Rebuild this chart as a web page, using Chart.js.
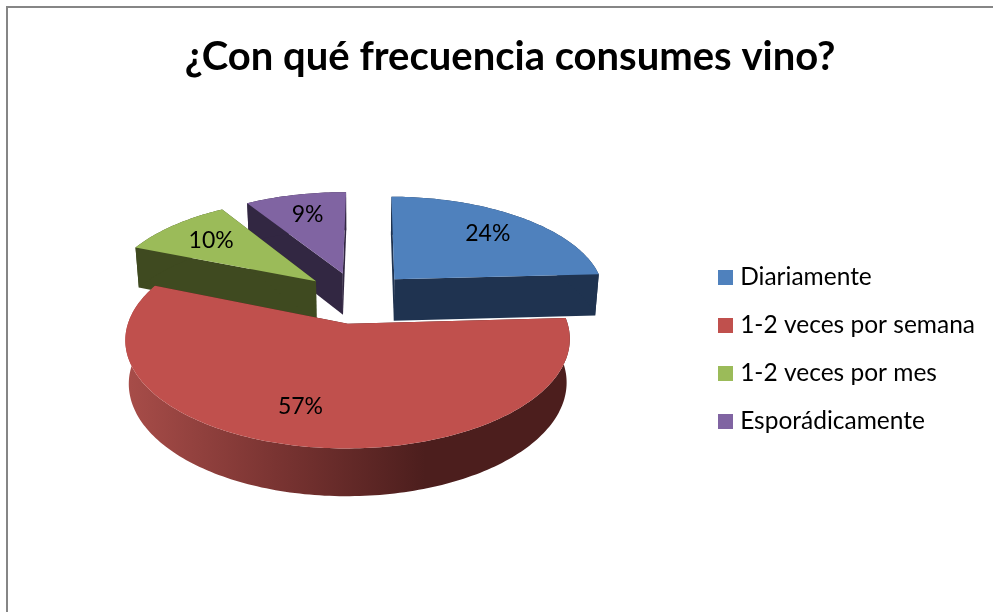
<!DOCTYPE html>
<html>
<head>
<meta charset="utf-8">
<title>Consumo de vino</title>
<script src="https://cdn.jsdelivr.net/npm/chart.js@4"></script>
<style>
  html, body { margin: 0; padding: 0; background: #fff; overflow: hidden; }
  #frame { position: absolute; left: 6px; top: 6px; width: 987px; height: 606px; border-left: 2px solid #868686; border-top: 2px solid #868686; box-sizing: border-box; }
  #chartPlace { position: absolute; left: 0; top: 0; }
</style>
</head>
<body>
<div id="frame"></div>
<canvas id="chartPlace" width="993" height="612"></canvas>
<script>
const chartTitle = "¿Con qué frecuencia consumes vino?";
const categories = ["Diariamente", "1-2 veces por semana", "1-2 veces por mes", "Esporádicamente"];
const values = [24, 57, 10, 9];
const topColors = ["#4f81bd", "#c0504d", "#9bbb59", "#8064a2"];
const wallColors = ["#1f3350", "#4c1e1d", "#3f4a20", "#322742"];
const labelTurn = [0, 0.1, 0, 0];

/* fake 3D view: the arcs stay in Chart.js, this only bends them on screen */
const view = {
  shiftX: -10,    // picture centre relative to the arc centre
  shiftY: -51.5,
  tilt: 0.467,
  depth: 0.14,    // perspective strength
  explode: 0.26,  // in radii
  height: 15,
  heightGrow: 27,
  baseShrink: 0.985
};

function project(arc, angle, r, mid, lift) {
  const R = arc.outerRadius;
  const u = r * Math.cos(angle) + view.explode * Math.cos(mid);
  const v = r * Math.sin(angle) + view.explode * Math.sin(mid);
  const s = 1 / (1 - view.depth * v);
  const k = lift ? view.baseShrink : 1;
  return {
    x: arc.x + view.shiftX + R * u * s * k,
    y: arc.y + view.shiftY + R * view.tilt * v * s + (lift ? view.height + view.heightGrow * s : 0)
  };
}

function arcPoints(arc, mid, lift) {
  const pts = [];
  const steps = Math.ceil((arc.endAngle - arc.startAngle) / 0.02);
  for (let i = 0; i <= steps; i++) {
    pts.push(project(arc, arc.startAngle + (arc.endAngle - arc.startAngle) * i / steps, 1, mid, lift));
  }
  return pts;
}

function fillPoly(ctx, pts, fill) {
  ctx.beginPath();
  pts.forEach((p, i) => i ? ctx.lineTo(p.x, p.y) : ctx.moveTo(p.x, p.y));
  ctx.closePath();
  ctx.fillStyle = fill;
  ctx.fill();
}

function drawSlice(ctx, arc, idx) {
  const mid = (arc.startAngle + arc.endAngle) / 2;
  const topArc = arcPoints(arc, mid, false);
  const baseArc = arcPoints(arc, mid, true);
  const apexTop = project(arc, mid, 0, mid, false);
  const apexBase = project(arc, mid, 0, mid, true);

  let rimFill = wallColors[idx];
  if (idx === 1) {
    const left = Math.min(...topArc.map(p => p.x));
    const grad = ctx.createLinearGradient(left, 0, left + 300, 0);
    grad.addColorStop(0, "#a84d49");
    grad.addColorStop(0.5, "#7a3432");
    grad.addColorStop(1, "#4c1e1d");
    rimFill = grad;
  }
  // radial side walls
  fillPoly(ctx, [apexTop, topArc[0], baseArc[0], apexBase], wallColors[idx]);
  fillPoly(ctx, [apexTop, topArc[topArc.length - 1], baseArc[baseArc.length - 1], apexBase], wallColors[idx]);
  // outer rim
  fillPoly(ctx, topArc.concat(baseArc.slice().reverse()), rimFill);
  // top face
  fillPoly(ctx, [apexTop].concat(topArc), topColors[idx]);
}

// legend square that sits closer to its text than boxWidth allows
function swatch(color) {
  const c = document.createElement("canvas");
  c.width = 15;
  c.height = 15;
  const g = c.getContext("2d");
  g.fillStyle = color;
  g.fillRect(0, 0, 15, 15);
  return c;
}

const pie3d = {
  id: "pie3d",
  beforeDatasetDraw(chart, args) {
    const ctx = chart.ctx;
    const arcs = chart.getDatasetMeta(args.index).data;
    ctx.save();
    [3, 2, 1, 0].forEach(i => drawSlice(ctx, arcs[i], i));
    ctx.restore();
    return false;
  },
  afterDatasetsDraw(chart) {
    const ctx = chart.ctx;
    const arcs = chart.getDatasetMeta(0).data;
    const total = values.reduce((a, b) => a + b, 0);
    ctx.save();
    ctx.font = "23px Lato";
    ctx.fillStyle = "#000";
    ctx.textAlign = "center";
    ctx.textBaseline = "middle";
    arcs.forEach((arc, i) => {
      const mid = (arc.startAngle + arc.endAngle) / 2;
      const p = project(arc, mid + labelTurn[i], 0.72, mid, false);
      ctx.fillText(Math.round(values[i] / total * 100) + "%", p.x, p.y);
    });
    ctx.restore();
  }
};

new Chart(document.getElementById("chartPlace").getContext("2d"), {
  type: "pie",
  data: {
    labels: categories,
    datasets: [{ data: values, backgroundColor: topColors, borderWidth: 0 }]
  },
  options: {
    responsive: false,
    animation: false,
    radius: 212,
    rotation: 0.5,
    layout: { padding: { left: 35, right: 8, top: 0, bottom: 0 } },
    plugins: {
      title: {
        display: true,
        text: chartTitle,
        color: "#000",
        font: { family: "Lato", size: 40, weight: "bold" },
        padding: { top: 33, bottom: 5 }
      },
      legend: {
        position: "right",
        fullSize: false,
        labels: {
          color: "#000",
          font: { family: "Lato", size: 24.5 },
          boxWidth: 15,
          boxHeight: 15,
          padding: 23.5,
          usePointStyle: true,
          pointStyleWidth: 5,
          generateLabels() {
            return categories.map((text, i) => ({
              text: text,
              fillStyle: topColors[i],
              strokeStyle: topColors[i],
              lineWidth: 0,
              pointStyle: swatch(topColors[i]),
              fontColor: "#000",
              index: i
            }));
          }
        }
      },
      tooltip: { enabled: false }
    }
  },
  plugins: [pie3d]
});
</script>
</body>
</html>
